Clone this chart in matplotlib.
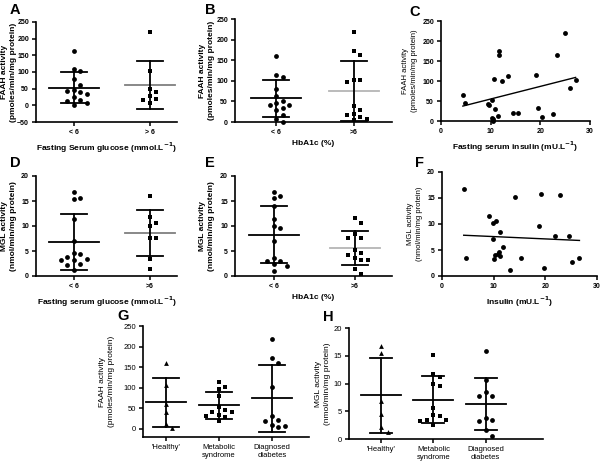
import numpy as np
import matplotlib.pyplot as plt

plt.rcParams['font.family'] = ['Liberation Sans', 'DejaVu Sans']

# FAAH activity (pmoles/min/mg protein)
faah_glu_lo = [162, 102, 110, 80, 62, 43, 33, 41, 45, 25, 12, 17, 1, 7]
faah_glu_hi = [220, 103, 50, 40, 20, 28, 17, 7]
faah_hba_lo = [161, 113, 109, 81, 62, 42, 35, 30, 42, 52, 46, 18, 8, 1]
faah_hba_hi = [218, 173, 163, 102, 101, 98, 40, 28, 20, 16, 12, 8, 4]
insulin_c = [4.4, 4.9, 10.2, 9.4, 9.6, 10.7, 12.3, 11.6, 11.6, 13.5, 10.9, 11.4, 10.2,
             10.4, 10.4, 14.5, 15.6, 19.2, 19.6, 20.3, 22.5, 23.4, 25.0, 25.9, 27.1]
faah_c = [64, 46, 53, 42, 39, 104, 100, 175, 164, 112, 29, 12, 8,
          4, 0, 20, 21, 114, 32, 10, 18, 164, 221, 82, 102]

# MGL activity (nmol/min/mg protein)
mgl_glu_lo = [16.8, 15.6, 15.3, 11.4, 7.0, 4.7, 4.4, 3.9, 3.5, 3.2, 3.3, 2.5, 2.2, 1.2]
mgl_glu_hi = [15.9, 11.8, 10.6, 10.0, 7.7, 7.7, 3.5, 1.5]
mgl_hba_lo = [16.8, 15.9, 15.5, 14.0, 11.3, 9.7, 10.0, 7.0, 3.7, 3.1, 3.1, 2.4, 2.1, 1.1]
mgl_hba_hi = [11.6, 10.5, 8.4, 7.7, 7.6, 5.3, 4.2, 4.7, 3.3, 3.3, 3.7, 1.4, 0.5]
insulin_f = [4.2, 4.6, 9.0, 9.9, 10.5, 9.8, 11.2, 10.0, 10.3, 10.8, 11.1, 11.2, 11.8,
             13.1, 14.1, 15.2, 18.7, 19.2, 19.8, 22.8, 21.9, 24.5, 25.2, 26.6]
mgl_f = [16.8, 3.4, 11.6, 10.1, 10.6, 7.1, 8.4, 3.2, 4.0, 4.3, 4.6, 3.8, 5.5,
         1.2, 15.2, 3.5, 9.6, 15.8, 1.5, 15.5, 7.7, 7.7, 2.6, 3.5]

# by group
groups = ["'Healthy'", "Metabolic\nsyndrome", "Diagnosed\ndiabetes"]
faah_healthy = [161, 107, 61, 42, 12, 2]
faah_mets = [101, 97, 113, 80, 52, 40, 42, 46, 34, 32, 28, 18]
faah_diab = [218, 172, 161, 101, 30, 10, 22, 18, 4, 7]
mgl_healthy = [16.8, 15.5, 6.9, 4.5, 2.1, 1.3]
mgl_mets = [15.2, 11.2, 11.7, 10.0, 9.6, 5.6, 4.4, 3.5, 3.5, 3.3, 4.2, 2.6]
mgl_diab = [15.8, 10.6, 8.5, 7.8, 7.8, 3.5, 3.2, 3.8, 1.6, 0.6]

W, H = 600, 465
fig = plt.figure(figsize=(6, 4.65), dpi=100)


def px_axes(x0, y0, x1, y1):
    return fig.add_axes([x0 / W, 1 - y1 / H, (x1 - x0) / W, (y1 - y0) / H])


def style(ax, fs=5, bold=True):
    for s in ('top', 'right'):
        ax.spines[s].set_visible(False)
    for s in ('left', 'bottom'):
        ax.spines[s].set_linewidth(1.2)
    ax.tick_params(width=1.1, length=3, labelsize=fs, pad=2)
    for lab in ax.get_xticklabels() + ax.get_yticklabels():
        lab.set_fontweight('bold' if bold else 'normal')


def px_per_unit(ax):
    x0, x1 = ax.get_xlim()
    return ax.get_position().width * W / (x1 - x0)


def swarm(ax, pos, vals, marker, ms=4.8, sx=6.5, sy=6.5):
    vals = np.asarray(vals, float)
    ypx = ax.transData.transform(np.column_stack([np.full(len(vals), pos), vals]))[:, 1]
    placed = []
    offs = np.zeros(len(vals))
    for i in np.argsort(-vals):
        k = 0
        ok = None
        while ok is None:
            cands = [0.0] if k == 0 else [k * sx, -k * sx]
            for c in cands:
                if all(abs(c - px) >= sx or abs(ypx[i] - py) >= sy for px, py in placed):
                    ok = c
                    break
            k += 1
        placed.append((ok, ypx[i]))
        offs[i] = ok
    x = pos + offs / px_per_unit(ax)
    msz = ms * 0.72 * (0.85 if marker == 's' else 1.0)
    ax.plot(x, vals, linestyle='none', marker=marker, color='black', ms=msz,
            mew=0, zorder=4, clip_on=False)


def mean_sd(ax, pos, vals, half_mean, half_cap, mcolor='black'):
    m = np.mean(vals)
    s = np.std(vals, ddof=1)
    u = px_per_unit(ax)
    ax.plot([pos - half_mean / u, pos + half_mean / u], [m, m], color=mcolor, lw=1.3, zorder=3)
    ax.plot([pos, pos], [m - s, m + s], color='black', lw=1.3, zorder=3, clip_on=False)
    for v in (m - s, m + s):
        ax.plot([pos - half_cap / u, pos + half_cap / u], [v, v], color='black', lw=1.3,
                zorder=3, clip_on=False)


def place_ylabel(ax, text, center_px, fs, bold):
    ax.set_ylabel(text, fontsize=fs, fontweight='bold' if bold else 'normal',
                  linespacing=1.25, va='center')
    ax.yaxis.set_label_coords(-center_px / (ax.get_position().width * W), 0.5)


def dot_panel(rect, xlim, ylim, yticks, data, markers, mcolors, xlabels, ylabel, xlabel,
              lab_px, hm=25, hc=13, fs=5, lfs=6, bold=True):
    ax = px_axes(*rect)
    ax.set_xlim(*xlim)
    ax.set_ylim(*ylim)
    ax.set_yticks(yticks)
    ax.set_xticks(range(len(data)))
    ax.set_xticklabels(xlabels)
    style(ax, fs, bold)
    for i, (vals, mk, mc) in enumerate(zip(data, markers, mcolors)):
        swarm(ax, i, vals, mk)
        mean_sd(ax, i, vals, hm, hc, mc)
    place_ylabel(ax, ylabel, lab_px, lfs, bold)
    if xlabel:
        ax.set_xlabel(xlabel, fontsize=lfs, fontweight='bold' if bold else 'normal', labelpad=3)
    return ax


def xy_panel(rect, xs, ys, ylim, yticks, ylabel, xlabel, lab_px):
    ax = px_axes(*rect)
    ax.set_xlim(0, 30)
    ax.set_ylim(*ylim)
    ax.set_xticks([0, 10, 20, 30])
    ax.set_yticks(yticks)
    style(ax, 5, True)
    ax.plot(xs, ys, linestyle='none', marker='o', color='black', ms=3.5, mew=0,
            clip_on=False, zorder=4)
    k, b = np.polyfit(xs, ys, 1)
    xx = np.array([min(xs), max(xs)])
    ax.plot(xx, k * xx + b, color='black', lw=1.0)
    place_ylabel(ax, ylabel, lab_px, 5.5, False)
    ax.set_xlabel(xlabel, fontsize=6, fontweight='bold', labelpad=3)
    return ax


faah_lab = 'FAAH activity\n(pmoles/min/mg protein)'
mgl_lab = 'MGL activity\n(nmol/min/mg protein)'

dot_panel((36, 22, 177, 122), (-0.5, 1.36), (-50, 250), range(-50, 251, 50),
          [faah_glu_lo, faah_glu_hi], ['o', 's'], ['black', '#7f7f7f'],
          ['< 6', '> 6'], faah_lab, 'Fasting Serum glucose (mmol.L$^{\\mathbf{-1}}$)', 27)
dot_panel((235, 19, 392, 122), (-0.53, 1.49), (0, 250), range(0, 251, 50),
          [faah_hba_lo, faah_hba_hi], ['o', 's'], ['black', '#b5b5b5'],
          ['< 6', '>6'], faah_lab, 'HbA1c (%)', 28)
xy_panel((441, 21, 590, 121), insulin_c, faah_c, (0, 250), range(0, 251, 50),
         faah_lab, 'Fasting serum insulin (mU.L$^{\\mathbf{-1}}$)', 31)

dot_panel((36, 176, 177, 276), (-0.5, 1.36), (0, 20), range(0, 21, 5),
          [mgl_glu_lo, mgl_glu_hi], ['o', 's'], ['black', '#7f7f7f'],
          ['< 6', '>6'], mgl_lab, 'Fasting serum glucose (mmol.L$^{\\mathbf{-1}}$)', 27)
dot_panel((235, 176, 392, 276), (-0.48, 1.46), (0, 20), range(0, 21, 5),
          [mgl_hba_lo, mgl_hba_hi], ['o', 's'], ['black', '#b5b5b5'],
          ['< 6', '>6'], mgl_lab, 'HbA1c (%)', 28)
xy_panel((442, 172, 597, 276), insulin_f, mgl_f, (0, 20), range(0, 21, 5),
         mgl_lab, 'Insulin (mU.L$^{\\mathbf{-1}}$)', 27)

dot_panel((143, 326, 309, 437), (-0.43, 2.7), (-20, 250), range(0, 251, 50),
          [faah_healthy, faah_mets, faah_diab], ['^', 's', 'o'], ['black'] * 3,
          groups, faah_lab, None, 36, hm=20, hc=13, fs=5.5, lfs=6, bold=False)
dot_panel((349, 328, 543, 439), (-0.62, 3.1), (0, 20), range(0, 21, 5),
          [mgl_healthy, mgl_mets, mgl_diab], ['^', 's', 'o'], ['black'] * 3,
          groups, mgl_lab, None, 26, hm=20, hc=11, fs=5.5, lfs=6, bold=False)

for letter, x, y in [('A', 15, 10), ('B', 210, 10), ('C', 415, 12), ('D', 15, 163),
                     ('E', 210, 163), ('F', 420, 163), ('G', 123, 316), ('H', 328, 317)]:
    fig.text(x / W, 1 - y / H, letter, fontsize=10.5, fontweight='bold',
             ha='center', va='center')

fig.savefig('out.png', dpi=100)
